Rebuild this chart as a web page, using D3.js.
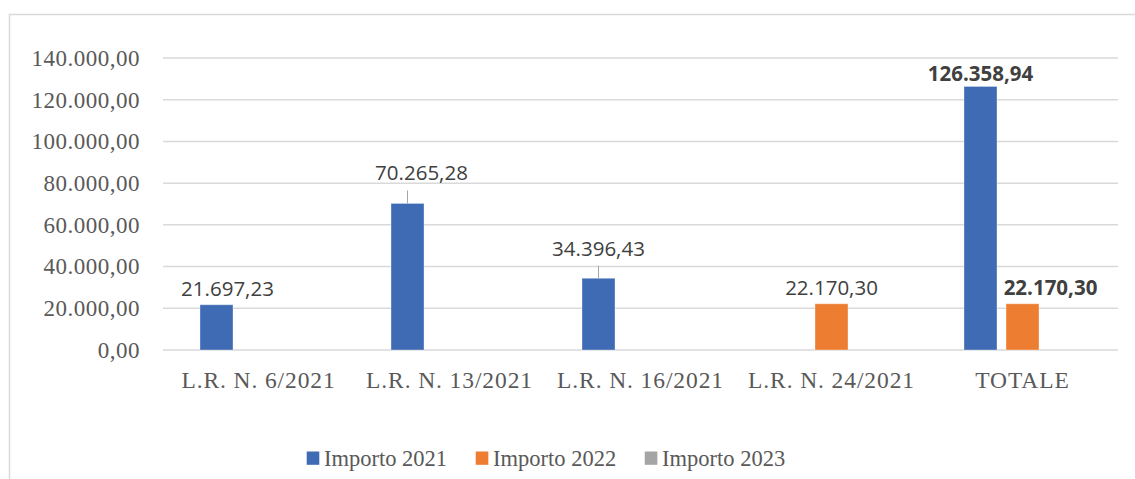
<!DOCTYPE html>
<html>
<head>
<meta charset="utf-8">
<script src="https://cdn.jsdelivr.net/npm/d3@7"></script>
<style>
  html, body { margin: 0; padding: 0; background: #ffffff; }
  svg { display: block; }
</style>
</head>
<body>
<svg id="chart" width="1135" height="479"></svg>
<script>
// ---- Data ----
const categories = ["L.R. N. 6/2021", "L.R. N. 13/2021", "L.R. N. 16/2021", "L.R. N. 24/2021", "TOTALE"];
const seriesNames = ["Importo 2021", "Importo 2022", "Importo 2023"];
const importo2021 = [21697.23, 70265.28, 34396.43, null, 126358.94];
const importo2022 = [null, null, null, 22170.30, 22170.30];
const importo2023 = [null, null, null, null, null];
const yTicks = [0, 20000, 40000, 60000, 80000, 100000, 120000, 140000];

// ---- Style / layout config ----
const colors = ["#3E6BB4", "#ED7D31", "#A5A5A5"];
// manual label adjustments (px) keyed by "category|series"
const labelAdjust = {
  "0|0": { dx: 11, dy: 0 },
  "1|0": { dx: 14, dy: -14, leader: true },
  "2|0": { dx: 0, dy: -13.5, leader: true },
  "3|1": { dx: 0, dy: 0 },
  "4|0": { dx: 0, dy: 4, bold: true },
  "4|1": { dx: 28, dy: 0, bold: true }
};

const seriesValues = [importo2021, importo2022, importo2023];
const fmt = v => {
  const parts = v.toFixed(2).split(".");
  return parts[0].replace(/\B(?=(\d{3})+(?!\d))/g, ".") + "," + parts[1];
};

const svg = d3.select("#chart");
const plot = { left: 163, right: 1118, top: 58, bottom: 350 };

// chart border
svg.append("rect")
  .attr("x", 9.5).attr("y", 14.5)
  .attr("width", 1200).attr("height", 500)
  .attr("fill", "none").attr("stroke", "#D9D9D9").attr("stroke-width", 1.5);

const y = d3.scaleLinear().domain([0, 140000]).range([plot.bottom, plot.top]);
const p = 0.3874;
const x0 = d3.scaleBand().domain(categories).range([plot.left, plot.right])
  .paddingInner(p).paddingOuter(p / 2);
const x1 = d3.scaleBand().domain(seriesNames).range([0, x0.bandwidth()])
  .paddingInner(9 / 42).paddingOuter(0);

// gridlines
svg.append("g").selectAll("line").data(yTicks).join("line")
  .attr("x1", plot.left).attr("x2", plot.right)
  .attr("y1", d => y(d)).attr("y2", d => y(d))
  .attr("stroke", "#D9D9D9").attr("stroke-width", 1.5);

// y axis labels
const yAxis = d3.axisLeft(y).tickValues(yTicks).tickSize(0).tickPadding(23).tickFormat(fmt);
const gy = svg.append("g").attr("transform", `translate(${plot.left},0)`).call(yAxis);
gy.select(".domain").remove();
gy.selectAll("text")
  .attr("font-family", "'Liberation Serif', 'Times New Roman', serif")
  .attr("font-size", 23).attr("fill", "#595959").attr("dy", "0.32em")
  .attr("letter-spacing", 0.5);

// x axis labels
const xAxis = d3.axisBottom(x0).tickSize(0).tickPadding(0);
const gx = svg.append("g").attr("transform", `translate(0,${plot.bottom})`).call(xAxis);
gx.select(".domain").remove();
gx.selectAll("text")
  .attr("font-family", "'Liberation Serif', 'Times New Roman', serif")
  .attr("font-size", 23.5).attr("fill", "#595959")
  .attr("letter-spacing", 0.9)
  .attr("y", 38).attr("dy", 0);

// bars
const barData = [];
categories.forEach((c, ci) => {
  seriesNames.forEach((s, si) => {
    const v = seriesValues[si][ci];
    if (v !== null && v !== undefined) barData.push({ c, ci, s, si, v });
  });
});

svg.append("g").selectAll("rect").data(barData).join("rect")
  .attr("x", d => x0(d.c) + x1(d.s))
  .attr("y", d => y(d.v))
  .attr("width", x1.bandwidth())
  .attr("height", d => y(0) - y(d.v))
  .attr("fill", d => colors[d.si])
  .attr("stroke", "#ffffff").attr("stroke-opacity", 0.35).attr("stroke-width", 1);

// labels
const lg = svg.append("g");
barData.forEach(d => {
  const adj = labelAdjust[d.ci + "|" + d.si] || { dx: 0, dy: 0 };
  const cx = x0(d.c) + x1(d.s) + x1.bandwidth() / 2;
  const top = y(d.v);
  const base = top - 9 + adj.dy;
  if (adj.leader) {
    lg.append("line")
      .attr("x1", cx).attr("x2", cx)
      .attr("y1", top).attr("y2", base + 10)
      .attr("stroke", "#A6A6A6").attr("stroke-width", 1);
  }
  lg.append("text")
    .attr("x", cx + adj.dx).attr("y", base)
    .attr("text-anchor", "middle")
    .attr("font-family", "'Open Sans', 'Noto Sans', sans-serif")
    .attr("font-size", 20.5)
    .attr("font-weight", adj.bold ? 700 : 400)
    .attr("fill", "#404040")
    .text(fmt(d.v));
});

// legend
const legend = svg.append("g");
const items = [];
seriesNames.forEach((s, i) => {
  const g = legend.append("g");
  g.append("rect").attr("x", 0).attr("y", -14).attr("width", 12.6).attr("height", 13.3).attr("fill", colors[i]);
  const t = g.append("text").attr("x", 17.3).attr("y", 0)
    .attr("font-family", "'Liberation Serif', 'Times New Roman', serif")
    .attr("font-size", 22.5).attr("fill", "#595959").text(s);
  const w = 17.3 + t.node().getComputedTextLength();
  items.push({ g, w });
});
const gap = 28.6;
let cursor = 306.7;
items.forEach(it => {
  it.g.attr("transform", `translate(${cursor},465.5)`);
  cursor += it.w + gap;
});
</script>
</body>
</html>
